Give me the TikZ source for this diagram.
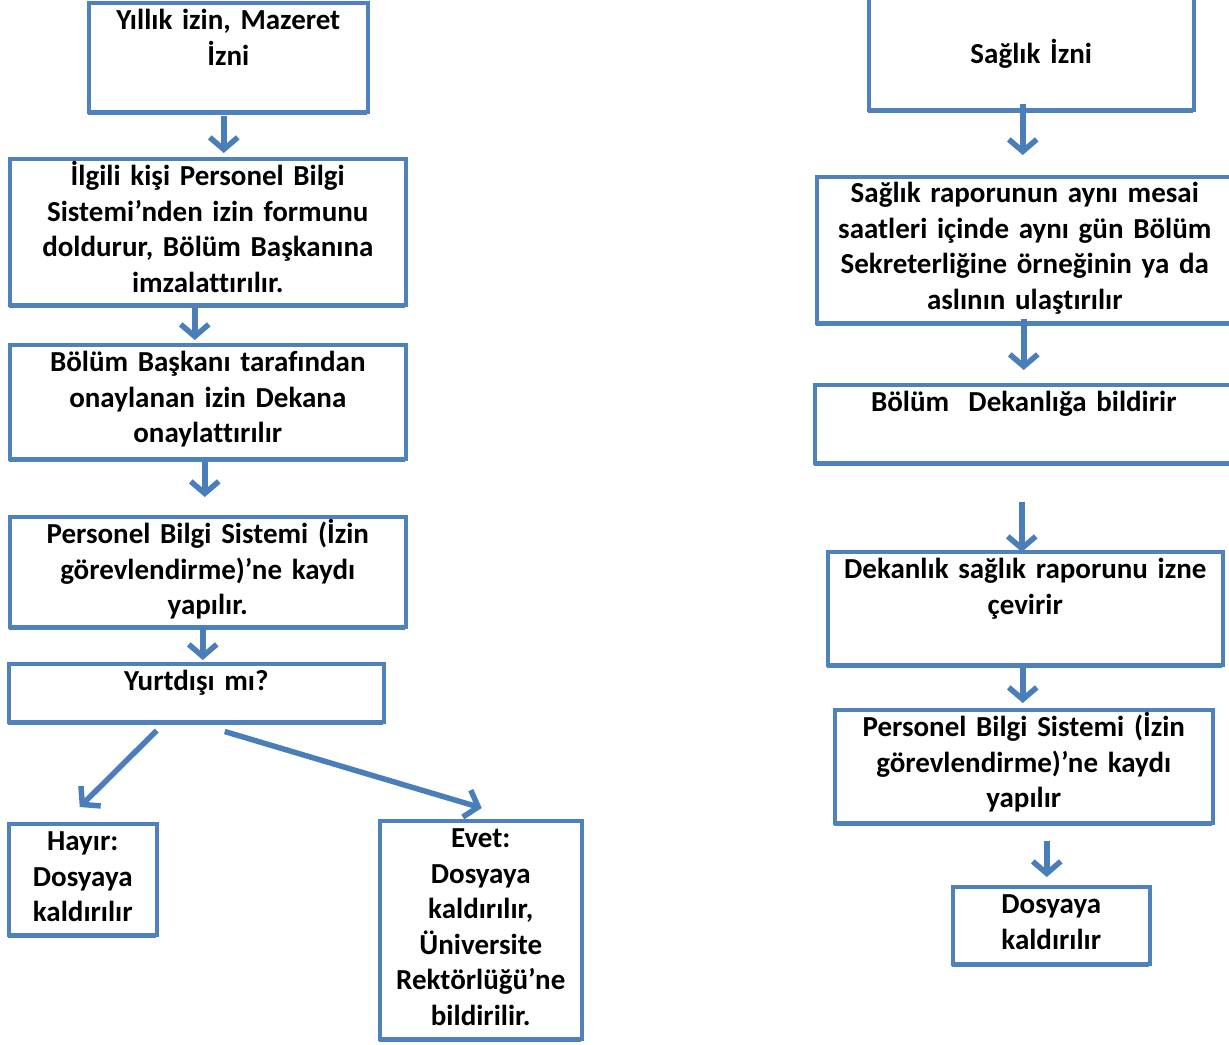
\documentclass[tikz,border=0pt]{standalone}
\usepackage{fontspec}
\setmainfont{Carlito}[Ligatures=NoCommon]
\usetikzlibrary{arrows.meta,calc,shadows}
\definecolor{boxblue}{HTML}{4F81BD}
\definecolor{arrowblue}{HTML}{4A7EBB}
\newcommand\pxu{0.5pt}
\tikzset{
  flowbox/.style={draw=boxblue,line width=1.75pt,fill=white,anchor=north west,inner sep=0pt,
    drop shadow={shadow xshift=-0.5pt,shadow yshift=-1.5pt,fill=boxblue,opacity=1}},
  flowtext/.style={anchor=base,align=center,text width=430*\pxu,inner sep=0pt,
    font=\fontsize{14.5}{17.8}\selectfont\bfseries},
  flowarrow/.style={draw=arrowblue,line width=2.75pt,-{Straight Barb[length=6pt,width=14pt]}}
}
\begin{document}
\begin{tikzpicture}[x=0.5pt,y=-0.5pt]
\useasboundingbox (0,0) rectangle (1229,1044);
\clip (0,0) rectangle (1229,1044);
% left column
\node[flowbox,minimum width=279*\pxu,minimum height=109*\pxu] (yillik) at (87,1) {};
\node[flowbox,minimum width=396*\pxu,minimum height=146*\pxu] (ilgili) at (8,157) {};
\node[flowbox,minimum width=396*\pxu,minimum height=114*\pxu] (onay) at (8,343) {};
\node[flowbox,minimum width=396*\pxu,minimum height=110*\pxu] (kayit) at (8,515) {};
\node[flowbox,minimum width=375*\pxu,minimum height=58*\pxu] (yurt) at (7,662) {};
\node[flowbox,minimum width=148*\pxu,minimum height=111*\pxu] (hayir) at (7,822) {};
\node[flowbox,minimum width=202*\pxu,minimum height=218*\pxu] (evet) at (378,819) {};
\node[flowtext] (yillik-t) at ($(yillik.north)+(0,28.5)$) {Yıllık izin, Mazeret\\İzni};
\node[flowtext] (ilgili-t) at ($(ilgili.north)+(0,28.5)$) {İlgili kişi Personel Bilgi\\Sistemi’nden izin formunu\\doldurur, Bölüm Başkanına\\imzalattırılır.};
\node[flowtext] (onay-t) at ($(onay.north)+(0,28.5)$) {Bölüm Başkanı tarafından\\onaylanan izin Dekana\\onaylattırılır};
\node[flowtext] (kayit-t) at ($(kayit.north)+(0,28.5)$) {Personel Bilgi Sistemi (İzin\\görevlendirme)’ne kaydı\\yapılır.};
\node[flowtext] (yurt-t) at ($(yurt.north)+(0,28.5)$) {Yurtdışı mı?};
\node[flowtext] (hayir-t) at ($(hayir.north)+(0,28.5)$) {Hayır:\\Dosyaya\\kaldırılır};
\node[flowtext] (evet-t) at ($(evet.north)+(0,28.5)$) {Evet:\\Dosyaya\\kaldırılır,\\Üniversite\\Rektörlüğü’ne\\bildirilir.};
% right column
\node[flowbox,minimum width=325*\pxu,minimum height=128*\pxu] (saglik) at (867,-20) {};
\node[flowbox,minimum width=416*\pxu,minimum height=146*\pxu] (rapor) at (815,175) {};
\node[flowbox,minimum width=418*\pxu,minimum height=78*\pxu] (dekan) at (813,383) {};
\node[flowbox,minimum width=395*\pxu,minimum height=113*\pxu] (izne) at (826,550) {};
\node[flowbox,minimum width=378*\pxu,minimum height=113*\pxu] (kayit2) at (833,708) {};
\node[flowbox,minimum width=197*\pxu,minimum height=77*\pxu] (dosya) at (951,885) {};
\node[flowtext] (saglik-t) at ($(saglik.south)+(0,-48)$) {Sağlık İzni};
\node[flowtext] (rapor-t) at ($(rapor.north)+(0,27.5)$) {Sağlık raporunun aynı mesai\\saatleri içinde aynı gün Bölüm\\Sekreterliğine örneğinin ya da\\aslının ulaştırılır};
\node[flowtext] (dekan-t) at ($(dekan.north)+(0,28.5)$) {Bölüm\ \ Dekanlığa bildirir};
\node[flowtext] (izne-t) at ($(izne.north)+(0,28.5)$) {Dekanlık sağlık raporunu izne\\çevirir};
\node[flowtext] (kayit2-t) at ($(kayit2.north)+(0,28.5)$) {Personel Bilgi Sistemi (İzin\\görevlendirme)’ne kaydı\\yapılır};
\node[flowtext] (dosya-t) at ($(dosya.north)+(0,28.5)$) {Dosyaya\\kaldırılır};
% arrows
\draw[flowarrow] ($(yillik.south)+(-4.5,2)$) -- ($(ilgili.north)+(16,-4)$);
\draw[flowarrow] ($(ilgili.south)+(-13,1)$) -- ($(onay.north)+(-13,-3)$);
\draw[flowarrow] ($(onay.south)+(-3,1)$) -- ($(kayit.north)+(-3,-18)$);
\draw[flowarrow] ($(kayit.south)+(-5,-4)$) -- ($(yurt.north)+(6.5,-2)$);
\draw[flowarrow] ($(yurt.south)+(-39.5,7)$) -- ($(hayir.north)+(-3,-15)$);
\draw[flowarrow] ($(yurt.south)+(28.5,8)$) -- ($(evet.north)+(1,-11)$);
\draw[flowarrow] ($(saglik.south)+(-8.5,-8)$) -- ($(rapor.north)+(-2,-20)$);
\draw[flowarrow] ($(rapor.south)+(-1,-6)$) -- ($(dekan.north)+(0,-13)$);
\draw[flowarrow] ($(dekan.south)+(-2,37)$) -- ($(izne.north)+(-3.5,2)$);
\draw[flowarrow] ($(izne.south)+(-2.5,1)$) -- ($(kayit2.north)+(-1,-5)$);
\draw[flowarrow] ($(kayit2.south)+(23,16)$) -- ($(dosya.north)+(-4.5,-8)$);
\end{tikzpicture}
\end{document}
